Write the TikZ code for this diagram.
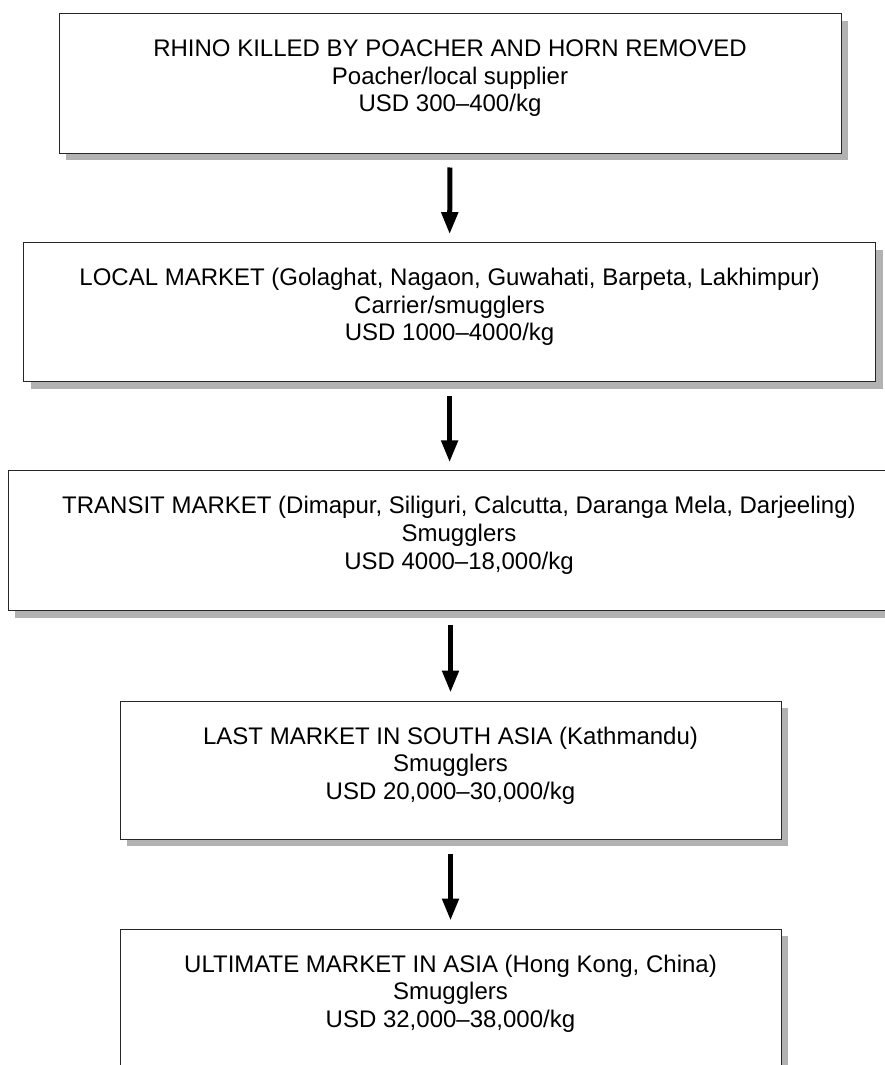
\documentclass[tikz,border=0pt]{standalone}
\usepackage{fontspec}
\setmainfont{Liberation Sans}
\usetikzlibrary{arrows.meta,positioning,shadows}

\begin{document}
\begin{tikzpicture}[x=1pt,y=-1pt]
    \edef\sizestage{139pt}
    \tikzstyle{stage}=[draw=black!85, line width=1pt, fill=white, inner sep=0pt,
                       minimum height=\sizestage,
                       drop shadow={shadow xshift=7pt, shadow yshift=-7pt,
                                    fill=black!30, opacity=1}]
    \tikzstyle{stagetext}=[align=center, inner sep=0pt,
                           font=\fontsize{24}{27.6}\selectfont,
                           execute at begin node=\strut]
    \tikzstyle{flow}=[line width=5pt, -{Triangle[width=16pt,length=22pt]},
                      shorten <=14pt, shorten >=8pt]

    \useasboundingbox (0,0) rectangle (885,1065);
    \clip (0,0) rectangle (885,1065);

    % Draw the market boxes
    \node [stage, minimum width=782pt] (kill)     at (450,83.5)  {};
    \node [stage, minimum width=852pt] (local)    at (449.6,312.2) {};
    \node [stage, minimum width=902pt, minimum height=140pt] (transit) at (459,540.8) {};
    \node [stage, minimum width=661pt, minimum height=138pt] (lastsa)  at (450.5,770) {};
    \node [stage, minimum width=661pt] (ultimate) at (450.5,998.5) {};

    % Texts, hung from the top of each box
    \node [stagetext, below=26pt of kill.north] (killtxt)
        {RHINO KILLED BY POACHER AND HORN REMOVED\\Poacher/local supplier\\USD 300--400/kg};
    \node [stagetext, below=26pt of local.north] (localtxt)
        {LOCAL MARKET (Golaghat, Nagaon, Guwahati, Barpeta, Lakhimpur)\\Carrier/smugglers\\USD 1000--4000/kg};
    \node [stagetext, below=26pt of transit.north] (transittxt)
        {TRANSIT MARKET (Dimapur, Siliguri, Calcutta, Daranga Mela, Darjeeling)\\Smugglers\\USD 4000--18,000/kg};
    \node [stagetext, below=26pt of lastsa.north] (lastsatxt)
        {LAST MARKET IN SOUTH ASIA (Kathmandu)\\Smugglers\\USD 20,000--30,000/kg};
    \node [stagetext, below=26pt of ultimate.north] (ultimatetxt)
        {ULTIMATE MARKET IN ASIA (Hong Kong, China)\\Smugglers\\USD 32,000--38,000/kg};

    % Draw arrows between the markets
    \draw [flow] (kill.south) -- (local.north);
    \draw [flow] (local.south) -- (local.south |- transit.north);
    \draw [flow] (transit.south -| lastsa) -- (lastsa.north);
    \draw [flow] (lastsa.south) -- (ultimate.north);
\end{tikzpicture}
\end{document}
